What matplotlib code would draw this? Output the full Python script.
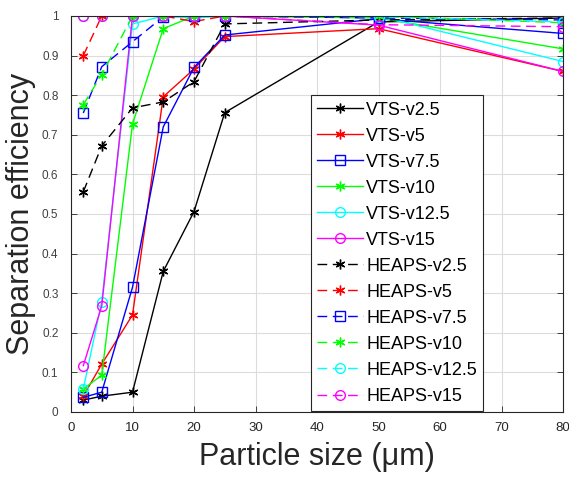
import matplotlib
matplotlib.use("Agg")
import matplotlib.pyplot as plt

plt.rcParams['font.family'] = ['Liberation Sans', 'DejaVu Sans']

x = [2, 5, 10, 15, 20, 25, 50, 80]

vts_v2_5 = [0.03, 0.04, 0.05, 0.355, 0.506, 0.756, 0.985, 0.995]
vts_v5 = [0.04, 0.121, 0.245, 0.796, 0.866, 0.948, 0.968, 0.860]
vts_v7_5 = [0.037, 0.05, 0.315, 0.72, 0.87, 0.952, 0.993, 0.956]
vts_v10 = [0.058, 0.093, 0.727, 0.968, 1.0, 1.0, 0.995, 0.917]
vts_v12_5 = [0.058, 0.279, 0.98, 1.0, 0.995, 1.0, 1.0, 0.885]
vts_v15 = [0.117, 0.268, 1.0, 1.0, 1.0, 1.0, 0.977, 0.86]

heaps_v2_5 = [0.556, 0.672, 0.768, 0.783, 0.834, 0.98, 0.99, 0.995]
heaps_v5 = [0.90, 1.0, 1.0, 1.0, 0.986, 1.0, 1.0, 1.0]
heaps_v7_5 = [0.755, 0.872, 0.935, 0.998, 1.0, 1.0, 0.995, 0.99]
heaps_v10 = [0.776, 0.852, 1.0, 1.0, 1.0, 1.0, 1.0, 0.983]
heaps_v12_5 = [1.0, 1.0, 1.0, 1.0, 1.0, 1.0, 0.998, 0.985]
heaps_v15 = [1.0, 1.0, 1.0, 1.0, 1.0, 1.0, 0.978, 0.973]

labels = ['VTS-v2.5', 'VTS-v5', 'VTS-v7.5', 'VTS-v10', 'VTS-v12.5', 'VTS-v15',
          'HEAPS-v2.5', 'HEAPS-v5', 'HEAPS-v7.5', 'HEAPS-v10', 'HEAPS-v12.5', 'HEAPS-v15']
series = [vts_v2_5, vts_v5, vts_v7_5, vts_v10, vts_v12_5, vts_v15,
          heaps_v2_5, heaps_v5, heaps_v7_5, heaps_v10, heaps_v12_5, heaps_v15]

colors = ['#000000', '#FF0000', '#0000FF', '#00FF00', '#00FFFF', '#FF00FF']
ast = (6, 2, 0)
markers = [ast, ast, 's', ast, 'o', 'o']

fig = plt.figure(figsize=(5.69, 4.84), dpi=100)
ax = fig.add_axes([71/569, 72/484, 492/569, 396/484])

for i, (lab, ys) in enumerate(zip(labels, series)):
    c = colors[i % 6]
    m = markers[i % 6]
    ls = '-' if i < 6 else (0, (7, 4))
    ax.plot(x, ys, color=c, linestyle=ls, linewidth=1.0, marker=m,
            markersize=7, markerfacecolor='none', markeredgecolor=c,
            markeredgewidth=1.0, label=lab)

ax.set_xlim(0, 80)
ax.set_ylim(0, 1)
ax.set_xticks(range(0, 81, 10))
ax.set_yticks([i / 10 for i in range(11)])
ax.set_yticklabels(['0', '0.1', '0.2', '0.3', '0.4', '0.5', '0.6', '0.7', '0.8', '0.9', '1'])
ax.grid(True, color='#DCDCDC', linewidth=0.8)
ax.set_axisbelow(True)
for s in ax.spines.values():
    s.set_color('#262626')
    s.set_linewidth(0.8)
ax.tick_params(axis='both', direction='in', top=True, right=True, length=4,
               width=0.6, color='#262626')
ax.tick_params(axis='x', labelsize=9.5, labelcolor='#262626', pad=7)
ax.tick_params(axis='y', labelsize=8.5, labelcolor='#404040', pad=9)

ax.set_xlabel('Particle size (μm)', fontsize=22, color='#262626', labelpad=6)
ax.set_ylabel('Separation efficiency', fontsize=22, color='#262626', labelpad=4)

leg = ax.legend(loc='upper left', bbox_to_anchor=(0.488, 0.80), borderaxespad=0,
                fontsize=13, frameon=True, fancybox=False, edgecolor='#262626',
                framealpha=1, handlelength=2.5, labelspacing=0.5,
                handletextpad=0.2, borderpad=0.35)
leg.get_frame().set_linewidth(0.8)

fig.savefig('out.png', dpi=100)
